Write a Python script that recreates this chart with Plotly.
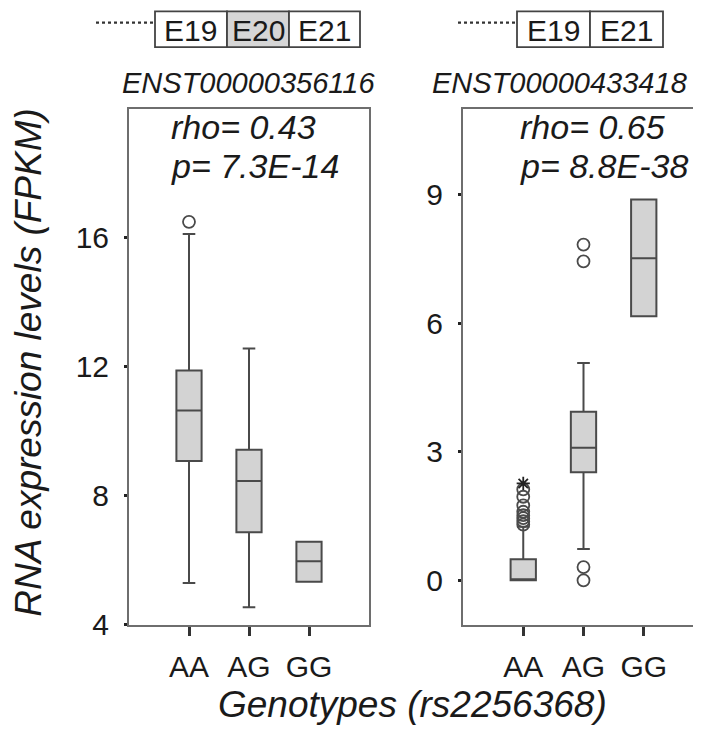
import plotly.graph_objects as go
from plotly.subplots import make_subplots

W, H = 701, 742

# ---------------- data ----------------
genotypes = ["AA", "AG", "GG"]

# ENST00000356116 (left panel)
left_q1 = [9.07, 6.86, 5.33]
left_median = [10.64, 8.45, 5.96]
left_q3 = [11.88, 9.42, 6.57]
left_low = [5.29, 4.54, 5.33]
left_high = [16.11, 12.56, 6.57]
left_out_x = ["AA"]
left_out_y = [16.49]

# ENST00000433418 (right panel)
right_q1 = [0.0, 2.52, 6.16]
right_median = [0.02, 3.09, 7.51]
right_q3 = [0.49, 3.93, 8.88]
right_low = [0.0, 0.73, 6.16]
right_high = [1.25, 5.07, 8.88]
right_out_x = ["AA", "AA", "AA", "AA", "AA", "AA", "AA", "AA", "AG", "AG", "AG", "AG"]
right_out_y = [1.30, 1.38, 1.45, 1.52, 1.60, 1.75, 1.95, 2.12, 7.83, 7.44, 0.31, 0.0]
right_star_x = ["AA"]
right_star_y = [2.26]

left_ticks = [4, 8, 12, 16]
right_ticks = [0, 3, 6, 9]

titles = ["ENST00000356116", "ENST00000433418"]
stats_text = [("rho= 0.43", "p= 7.3E-14"), ("rho= 0.65", "p= 8.8E-38")]
left_exons = ["E19", "E20", "E21"]
right_exons = ["E19", "E21"]

# ---------------- style ----------------
FONT = "Arial, Liberation Sans, Helvetica, sans-serif"
BOX_LINE = "#4a4a4a"
BOX_FILL = "#d3d3d3"
FRAME = "#6e6e6e"
TXT = "#1a1a1a"


def px(x):
    return x / W


def py(y):
    return 1 - y / H


fig = make_subplots(rows=1, cols=2)

for col, (q1, med, q3, lo, hi) in enumerate(
    [(left_q1, left_median, left_q3, left_low, left_high),
     (right_q1, right_median, right_q3, right_low, right_high)], start=1):
    fig.add_trace(go.Box(
        x=genotypes, q1=q1, median=med, q3=q3, lowerfence=lo, upperfence=hi,
        width=0.42, whiskerwidth=0.5, boxpoints=False,
        fillcolor=BOX_FILL, line=dict(color=BOX_LINE, width=2),
        showlegend=False, hoverinfo="skip"), row=1, col=col)

fig.add_trace(go.Scatter(x=left_out_x, y=left_out_y, mode="markers",
                         marker=dict(symbol="circle-open", size=12, color=BOX_LINE,
                                     line=dict(width=1.8)),
                         showlegend=False, hoverinfo="skip"), row=1, col=1)
fig.add_trace(go.Scatter(x=right_out_x, y=right_out_y, mode="markers",
                         marker=dict(symbol="circle-open", size=12, color=BOX_LINE,
                                     line=dict(width=1.8)),
                         showlegend=False, hoverinfo="skip"), row=1, col=2)
fig.add_trace(go.Scatter(x=right_star_x, y=right_star_y, mode="markers",
                         marker=dict(symbol="asterisk-open", size=11, color="#222",
                                     line=dict(width=1.8)),
                         showlegend=False, hoverinfo="skip"), row=1, col=2)

axis_common = dict(showline=True, mirror=True, linecolor=FRAME, linewidth=2,
                   showgrid=False, zeroline=False,
                   tickfont=dict(family=FONT, size=30, color=TXT))

fig.update_xaxes(**axis_common, type="category", categoryorder="array",
                 categoryarray=genotypes, range=[-1, 3],
                 ticks="outside", ticklen=9, tickwidth=2.5, tickcolor="#333",
                 ticklabelstandoff=5)
fig.update_yaxes(**axis_common, ticks="outside", ticklen=3, tickwidth=3,
                 tickcolor="#222", ticklabelstandoff=9)

fig.update_xaxes(domain=[px(121), px(361)], row=1, col=1)
fig.update_xaxes(domain=[px(455), px(696)], row=1, col=2)
fig.update_yaxes(domain=[py(631), py(103)], range=[4, 20], tickvals=left_ticks,
                 row=1, col=1)
fig.update_yaxes(domain=[py(631), py(103)], range=[-1.03, 11.0], tickvals=right_ticks,
                 row=1, col=2)

annotations = []
# transcript ids
for cx, t in zip([240, 551], titles):
    annotations.append(dict(x=px(cx), y=py(77), xref="paper", yref="paper",
                            text=f"<i>{t}</i>", showarrow=False,
                            font=dict(family=FONT, size=29, color=TXT),
                            xanchor="center", yanchor="middle"))
# stats
for lx, (r, p) in zip([161, 510], stats_text):
    annotations.append(dict(x=px(lx), y=py(122), xref="paper", yref="paper",
                            text=f"<i>{r}</i>", showarrow=False,
                            font=dict(family=FONT, size=34, color=TXT),
                            xanchor="left", yanchor="middle"))
    annotations.append(dict(x=px(lx), y=py(162), xref="paper", yref="paper",
                            text=f"<i>{p}</i>", showarrow=False,
                            font=dict(family=FONT, size=34, color=TXT),
                            xanchor="left", yanchor="middle"))
# axis titles
annotations.append(dict(x=px(404), y=py(713), xref="paper", yref="paper",
                        text="<i>Genotypes (rs2256368)</i>", showarrow=False,
                        font=dict(family=FONT, size=37, color=TXT),
                        xanchor="center", yanchor="middle"))
annotations.append(dict(x=px(21), y=py(363), xref="paper", yref="paper",
                        text="<i>RNA expression levels (FPKM)</i>", showarrow=False,
                        textangle=-90,
                        font=dict(family=FONT, size=37, color=TXT),
                        xanchor="center", yanchor="middle"))

# exon diagrams
shapes = []
left_edges = [147, 219, 281, 352]
right_edges = [509, 582, 655]
ex_top, ex_bot = 3.5, 40
for edges, labels, dot_start in [(left_edges, left_exons, 88),
                                 (right_edges, right_exons, 450)]:
    shapes.append(dict(type="line", xref="paper", yref="paper",
                       x0=px(dot_start), x1=px(edges[0]), y0=py(15), y1=py(15),
                       line=dict(color="#333", width=2.4, dash="dot")))
    for i, lab in enumerate(labels):
        fill = "#d6d6d6" if lab == "E20" else "white"
        shapes.append(dict(type="rect", xref="paper", yref="paper",
                           x0=px(edges[i]), x1=px(edges[i + 1]),
                           y0=py(ex_bot), y1=py(ex_top),
                           line=dict(color="#444", width=1.8), fillcolor=fill))
        annotations.append(dict(x=px((edges[i] + edges[i + 1]) / 2), y=py(23),
                                xref="paper", yref="paper", text=lab,
                                showarrow=False,
                                font=dict(family=FONT, size=30, color=TXT),
                                xanchor="center", yanchor="middle"))

fig.update_layout(width=W, height=H, margin=dict(l=0, r=0, t=0, b=0),
                  paper_bgcolor="white", plot_bgcolor="white",
                  annotations=annotations, shapes=shapes, showlegend=False)

fig.write_html("out.html")
